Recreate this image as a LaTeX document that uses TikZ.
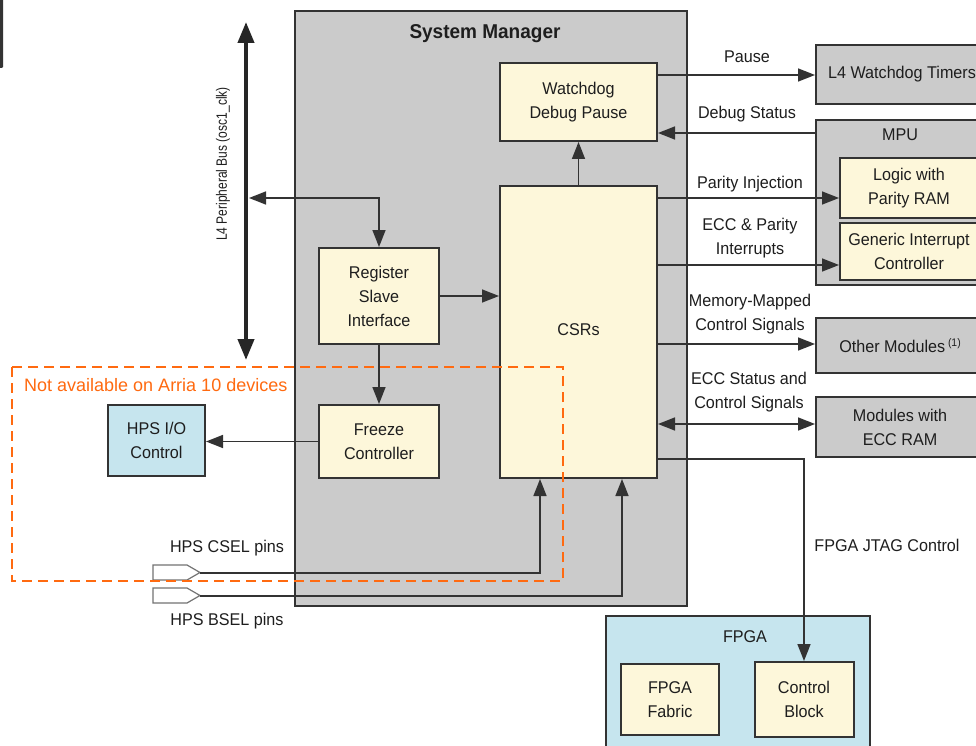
\documentclass[tikz,border=0pt]{standalone}
\usepackage{fontspec}
\setmainfont[FakeStretch=0.95]{Liberation Sans}
\newfontfamily\notefont{Liberation Sans}
\newfontfamily\condfont[FakeStretch=0.8]{Liberation Sans}
\usetikzlibrary{arrows.meta,calc}
\definecolor{smgray}{HTML}{CBCBCB}
\definecolor{cream}{HTML}{FDF7DA}
\definecolor{lblue}{HTML}{C6E5EE}
\definecolor{edge}{HTML}{333333}
\definecolor{txt}{HTML}{1E1E1E}
\definecolor{note}{HTML}{FF6A10}
\begin{document}
\begin{tikzpicture}[x=1pt,y=-1pt,
 box/.style={draw=edge, line width=2pt, text=txt, align=center, font=\fontsize{17}{24}\selectfont, inner sep=0pt},
 crm/.style={box, fill=cream},
 blu/.style={box, fill=lblue},
 gry/.style={box, fill=smgray},
 lbl/.style={text=txt, align=center, font=\fontsize{17}{24}\selectfont, inner sep=0pt},
 arr/.style={draw=edge, line width=1.6pt, -{Triangle[length=17pt,width=13pt]}},
 darr/.style={draw=edge, line width=1.6pt, {Triangle[length=17pt,width=13pt]}-{Triangle[length=17pt,width=13pt]}},
 busarr/.style={draw=black!85, line width=4pt, {Triangle[length=21pt,width=16pt]}-{Triangle[length=21pt,width=16pt]}},
 pin/.style={draw=black!55, fill=white, line width=1.2pt},
 ]
\useasboundingbox (0,0) rectangle (976,746);
\clip (0,0) rectangle (976,746);
\fill[white] (0,0) rectangle (976,746);
\fill[edge, rounded corners=1pt] (-3,-3) rectangle (3,68);

% System Manager
\node[gry, minimum width=392pt, minimum height=595pt] (sm) at (491,308.5) {};
\node[lbl, font=\bfseries\fontsize{20}{24}\selectfont] (smt) at (485,34) {System Manager};

\node[crm, minimum width=157pt, minimum height=78pt] (wdp) at (578.5,102) {Watchdog\\Debug Pause};
\node[crm, minimum width=157pt, minimum height=292pt] (csr) at (578.5,332) {};
\node[lbl] (csrt) at (578.5,330) {CSRs};
\node[crm, minimum width=120pt, minimum height=96pt] (rsi) at (379,296) {Register\\Slave\\Interface};
\node[crm, minimum width=120pt, minimum height=73pt] (frz) at (379,441.5) {Freeze\\Controller};
\node[blu, minimum width=97pt, minimum height=71pt] (hio) at (156.5,440.5) {HPS I/O\\Control};

% right side modules
\node[gry, minimum width=172pt, minimum height=59pt] (l4w) at (902,74.5) {L4 Watchdog Timers};
\node[gry, minimum width=168pt, minimum height=165pt] (mpu) at (900,202.5) {};
\node[lbl] (mput) at (900,135) {MPU};
\node[crm, minimum width=138pt, minimum height=59pt] (lpr) at (909,188) {Logic with\\Parity RAM};
\node[crm, minimum width=138pt, minimum height=57pt] (gic) at (909,251) {Generic Interrupt\\Controller};
\node[gry, minimum width=168pt, minimum height=55pt] (oth) at (900,345.5) {Other Modules\,{\fontsize{11}{11}\selectfont\raisebox{6pt}{(1)}}};
\node[gry, minimum width=168pt, minimum height=60pt] (ecc) at (900,427) {Modules with\\ECC RAM};

% FPGA
\node[blu, minimum width=264pt, minimum height=150pt] (fpga) at (738,691) {};
\node[lbl] (fpgat) at (745,637) {FPGA};
\node[crm, minimum width=98pt, minimum height=71pt] (fab) at (670,699.5) {FPGA\\Fabric};
\node[crm, minimum width=99pt, minimum height=75pt] (cb) at (804,699.5) {Control\\Block};

% L4 bus
\coordinate (busT) at (246,22);
\coordinate (busB) at (246,360);
\coordinate (busJ) at (249,198);
\draw[busarr] (busT) -- (busB);
\node[lbl, rotate=90, font=\condfont\fontsize{15}{17}\selectfont] (busl) at (223,164) {L4 Peripheral Bus (osc1\_clk)};
\draw[darr] (busJ) -| (rsi.north);

% internal connectors
\draw[arr] (rsi.east) -- (csr.west |- rsi.east);
\draw[arr] (rsi.south) -- (frz.north);
\draw[arr] (frz.west) -- (hio.east |- frz.west);
\draw[arr] (csr.north) -- (wdp.south);

% right connectors
\draw[arr] (wdp.east |- 0,75) -- (l4w.west |- 0,75);
\node[lbl] (pausel) at (747,57) {Pause};
\draw[arr] (mpu.west |- 0,133) -- (wdp.east |- 0,133);
\node[lbl] (dbgl) at (747,114) {Debug Status};
\draw[arr] (csr.east |- 0,198) -- (lpr.west |- 0,198);
\node[lbl] (pinjl) at (750,184) {Parity Injection};
\draw[arr] (csr.east |- 0,265) -- (gic.west |- 0,265);
\node[lbl] (eccpl) at (750,238) {ECC \& Parity\\Interrupts};
\draw[arr] (csr.east |- 0,344) -- (oth.west |- 0,344);
\node[lbl] (mmcl) at (750,314) {Memory-Mapped\\Control Signals};
\draw[darr] (csr.east |- 0,424) -- (ecc.west |- 0,424);
\node[lbl] (eccsl) at (749,392) {ECC Status and\\Control Signals};
\draw[arr] (csr.east |- 0,459) -| (cb.north);
\node[lbl] (jtagl) at (887,545) {FPGA JTAG Control};

% pins
\draw[pin] (153,565) -- (187,565) -- (200,572.5) -- (187,580) -- (153,580) -- cycle;
\draw[pin] (153,588) -- (187,588) -- (200,595.5) -- (187,603) -- (153,603) -- cycle;
\coordinate (csel) at (200,573);
\coordinate (bsel) at (200,596);
\draw[arr] (csel) -| ($(csr.south west)+(41,0)$);
\draw[arr] (bsel) -| ($(csr.south west)+(123,0)$);
\node[lbl] (csell) at (227,548) {HPS CSEL pins};
\node[lbl] (bsell) at (227,621) {HPS BSEL pins};

% not available region
\draw[note, line width=2.5pt, dash pattern=on 10pt off 6pt] (12,367) rectangle (563,581);
\node[anchor=west, text=note, inner sep=0pt, font=\notefont\fontsize{18}{20}\selectfont] (nal) at (24,385) {Not available on Arria 10 devices};
\end{tikzpicture}
\end{document}
